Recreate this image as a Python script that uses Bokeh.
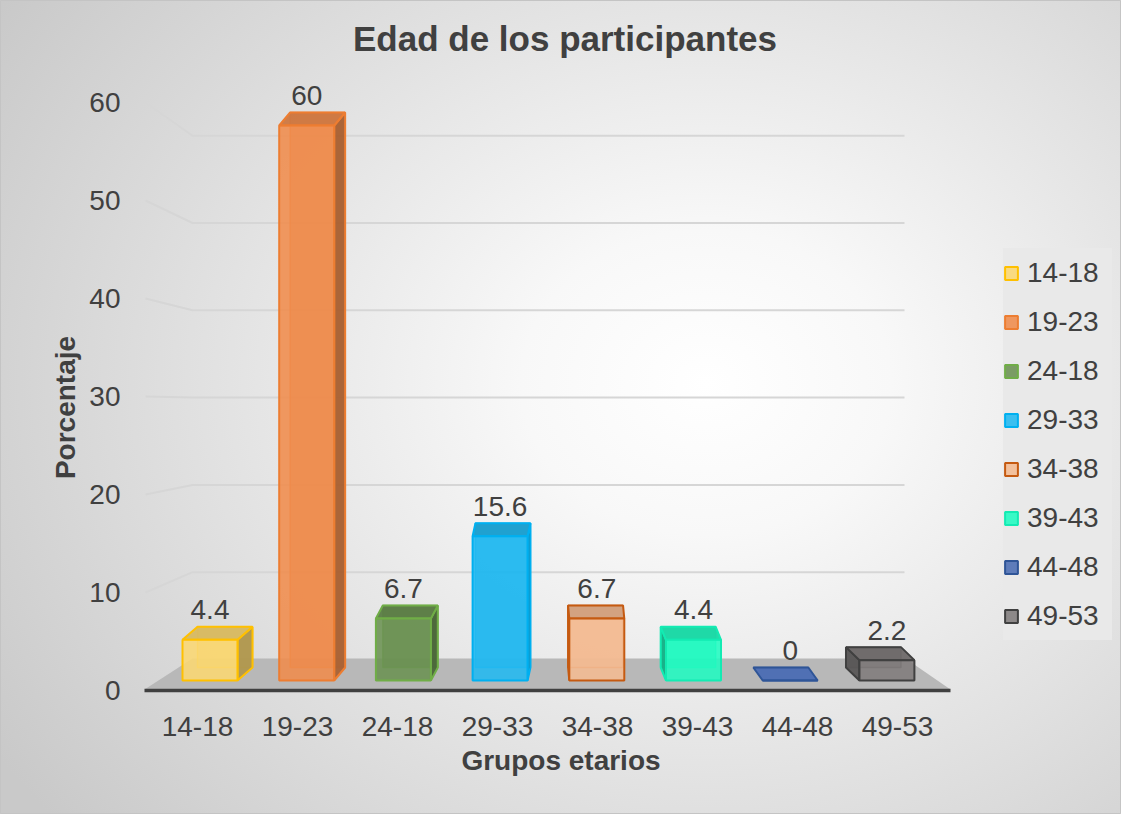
import numpy as np
from bokeh.plotting import figure
from bokeh.models import (FixedTicker, Legend, LegendItem, Label, Range1d, LinearAxis)
from bokeh.embed import file_html
from bokeh.resources import INLINE
from bokeh.core.properties import value

# ---------------- data ----------------
categories = ["14-18", "19-23", "24-18", "29-33", "34-38", "39-43", "44-48", "49-53"]
values = [4.4, 60, 6.7, 15.6, 6.7, 4.4, 0, 2.2]
y_ticks = [0, 10, 20, 30, 40, 50, 60]
fill_colors = ["#FBD872", "#F08B4B", "#6A9150", "#20B9F1", "#F5BB92", "#1FFCC1", "#4A6CB3", "#807B7B"]
line_colors = ["#FFC000", "#ED7D31", "#70AD47", "#00B0F0", "#C55A11", "#13EBB3", "#2F5597", "#404040"]

title_text = "Edad de los participantes"
x_title = "Grupos etarios"
y_title = "Porcentaje"

FONT = "Liberation Sans"
TXT = "#404040"

# ---------------- layout constants (page pixels) ----------------
W, H = 1121, 814
PX0, PXS = 205.0, 100.0   # category 0 at page x 205, 100 px per category (front plane)
PY0, PYS = 698.0, 9.8     # value 0 at page y 698, 9.8 px per unit (front plane)


def X(px):
    return (px - PX0) / PXS


def Y(py):
    return (PY0 - py) / PYS


def shade(c, f):
    c = c.lstrip("#")
    r, g, b = (int(c[i:i + 2], 16) for i in (0, 2, 4))
    return "#%02x%02x%02x" % (int(r * f), int(g * f), int(b * f))


p = figure(width=W, height=H,
           x_range=Range1d(X(8), X(8 + W)), y_range=Range1d(Y(8 + H), Y(8)),
           output_backend="svg", toolbar_location=None, min_border=0,
           title=None, x_axis_location=None, y_axis_location=None)
p.grid.visible = False
p.background_fill_color = None
p.border_fill_color = None
p.outline_line_color = "#c4c4c4"
p.styles = {"background-image":
            "radial-gradient(ellipse 75% 85% at 63% 47%, #ffffff 0%, #f8f8f8 22%, "
            "#e4e4e4 55%, #c9c9c9 100%)"}

# ---------------- back wall grid + left perspective lines ----------------
BACK_Y0, BACK_S = 667.0, 8.73      # back wall: value 0 at 667, 8.73 px/unit
GRID_FRONT_X, GRID_BACK_X, GRID_RIGHT_X = 153, 200, 912
gx, gy = [], []
for t in y_ticks[1:]:
    yb = Y(BACK_Y0 - BACK_S * t)
    gx.append([X(GRID_FRONT_X), X(GRID_BACK_X), X(GRID_RIGHT_X)])
    gy.append([t, yb, yb])
p.multi_line(gx, gy, line_color="#d6d6d6", line_width=2)

# ---------------- floor ----------------
FL_FRONT_Y, FL_BACK_Y = 697, 666
FL_FRONT_L, FL_FRONT_R, FL_BACK_L, FL_BACK_R = 152, 958, 200, 913
p.patch([X(FL_FRONT_L), X(FL_FRONT_R), X(FL_BACK_R), X(FL_BACK_L)],
        [Y(FL_FRONT_Y), Y(FL_FRONT_Y), Y(FL_BACK_Y), Y(FL_BACK_Y)],
        fill_color="#b8b8b8", line_color=None)
p.segment(x0=[X(FL_FRONT_L)], y0=[Y(FL_FRONT_Y + 1)], x1=[X(FL_FRONT_R)], y1=[Y(FL_FRONT_Y + 1)],
          line_color="#404040", line_width=3.5)

# ---------------- 3D bars ----------------
BAR_LEFT0, BAR_STEP, BAR_W = 190.0, 96.7, 55.0
BAR_BASE, BAR_PPU, DEPTH = 688.0, 9.25, 13.0
VP, PERSP = 575.0, 0.042

front_renderers = []
lab_x, lab_y, lab_t = [], [], []
for i, (cat, v) in enumerate(zip(categories, values)):
    fl = BAR_LEFT0 + BAR_STEP * i
    fr = fl + BAR_W
    cx = fl + BAR_W / 2
    ddx = (VP - cx) * PERSP
    y0 = BAR_BASE
    y1 = BAR_BASE - BAR_PPU * v
    fc, lc = fill_colors[i], line_colors[i]
    # back face (hidden edges seen through the transparent front)
    p.quad(left=[X(fl + ddx)], right=[X(fr + ddx)], bottom=[Y(y0 - DEPTH)], top=[Y(y1 - DEPTH)],
           fill_color=shade(fc, 0.9), fill_alpha=0.6, line_color=lc, line_width=1.5, line_alpha=0.7)
    # side face
    if v > 0:
        sx = fr if ddx > 0 else fl
        p.patch([X(sx), X(sx), X(sx + ddx), X(sx + ddx)],
                [Y(y0), Y(y1), Y(y1 - DEPTH), Y(y0 - DEPTH)],
                fill_color=shade(fc, 0.7), fill_alpha=0.95, line_color=lc, line_width=2)
    # top face
    p.patch([X(fl), X(fr), X(fr + ddx), X(fl + ddx)],
            [Y(y1), Y(y1), Y(y1 - DEPTH), Y(y1 - DEPTH)],
            fill_color=shade(fc, 0.86) if v > 0 else fc, fill_alpha=0.95,
            line_color=lc, line_width=2)
    # front face
    r = p.quad(left=[X(fl)], right=[X(fr)], bottom=[Y(y0)], top=[Y(y1)],
               fill_color=fc, fill_alpha=0.87, line_color=lc, line_width=2)
    front_renderers.append(r)
    lab_x.append(X(cx))
    lab_y.append(Y(y1 - DEPTH - 17))
    lab_t.append(f"{v:g}")

p.text(x=lab_x, y=lab_y, text=lab_t, text_align="center", text_baseline="middle",
       text_font=value(FONT), text_font_size="28px", text_color=TXT)

# ---------------- axes ----------------
yaxis = LinearAxis(fixed_location=X(138), ticker=FixedTicker(ticks=y_ticks))
yaxis.axis_line_color = None
yaxis.major_tick_line_color = None
yaxis.major_tick_out = 0
yaxis.major_tick_in = 0
yaxis.minor_tick_line_color = None
yaxis.major_label_standoff = 10
yaxis.major_label_text_font = FONT
yaxis.major_label_text_font_size = "28px"
yaxis.major_label_text_color = TXT
yaxis.axis_label = y_title
yaxis.axis_label_text_font = FONT
yaxis.axis_label_text_font_size = "28px"
yaxis.axis_label_text_font_style = "bold"
yaxis.axis_label_text_color = TXT
yaxis.axis_label_standoff = 5
p.add_layout(yaxis, "left")

xaxis = LinearAxis(fixed_location=Y(712), ticker=FixedTicker(ticks=list(range(len(categories)))))
xaxis.major_label_overrides = {i: c for i, c in enumerate(categories)}
xaxis.axis_line_color = None
xaxis.major_tick_line_color = None
xaxis.major_tick_out = 0
xaxis.major_tick_in = 0
xaxis.minor_tick_line_color = None
xaxis.major_label_standoff = 12
xaxis.major_label_text_font = FONT
xaxis.major_label_text_font_size = "28px"
xaxis.major_label_text_color = TXT
xaxis.axis_label = x_title
xaxis.axis_label_text_font = FONT
xaxis.axis_label_text_font_size = "28px"
xaxis.axis_label_text_font_style = "bold"
xaxis.axis_label_text_color = TXT
xaxis.axis_label_standoff = 6
p.add_layout(xaxis, "below")

# ---------------- title ----------------
p.add_layout(Label(x=X(572.5), y=Y(46), text=title_text, text_align="center",
                   text_baseline="middle", text_font=FONT, text_font_size="35px",
                   text_font_style="bold", text_color=TXT))

# ---------------- legend ----------------
legend = Legend(items=[LegendItem(label=c, renderers=[front_renderers[i]])
                       for i, c in enumerate(categories)],
                location=(1003, 174), orientation="vertical")
legend.label_text_font = FONT
legend.label_text_font_size = "28px"
legend.label_text_color = TXT
legend.glyph_width = 16
legend.glyph_height = 16
legend.label_standoff = 8
legend.label_width = 85
legend.label_height = 49
legend.padding = 12
legend.spacing = 0
legend.margin = 0
legend.background_fill_color = "#e9e9e9"
legend.background_fill_alpha = 1.0
legend.border_line_color = None
p.add_layout(legend)

open("out.html", "w").write(file_html(p, INLINE))
